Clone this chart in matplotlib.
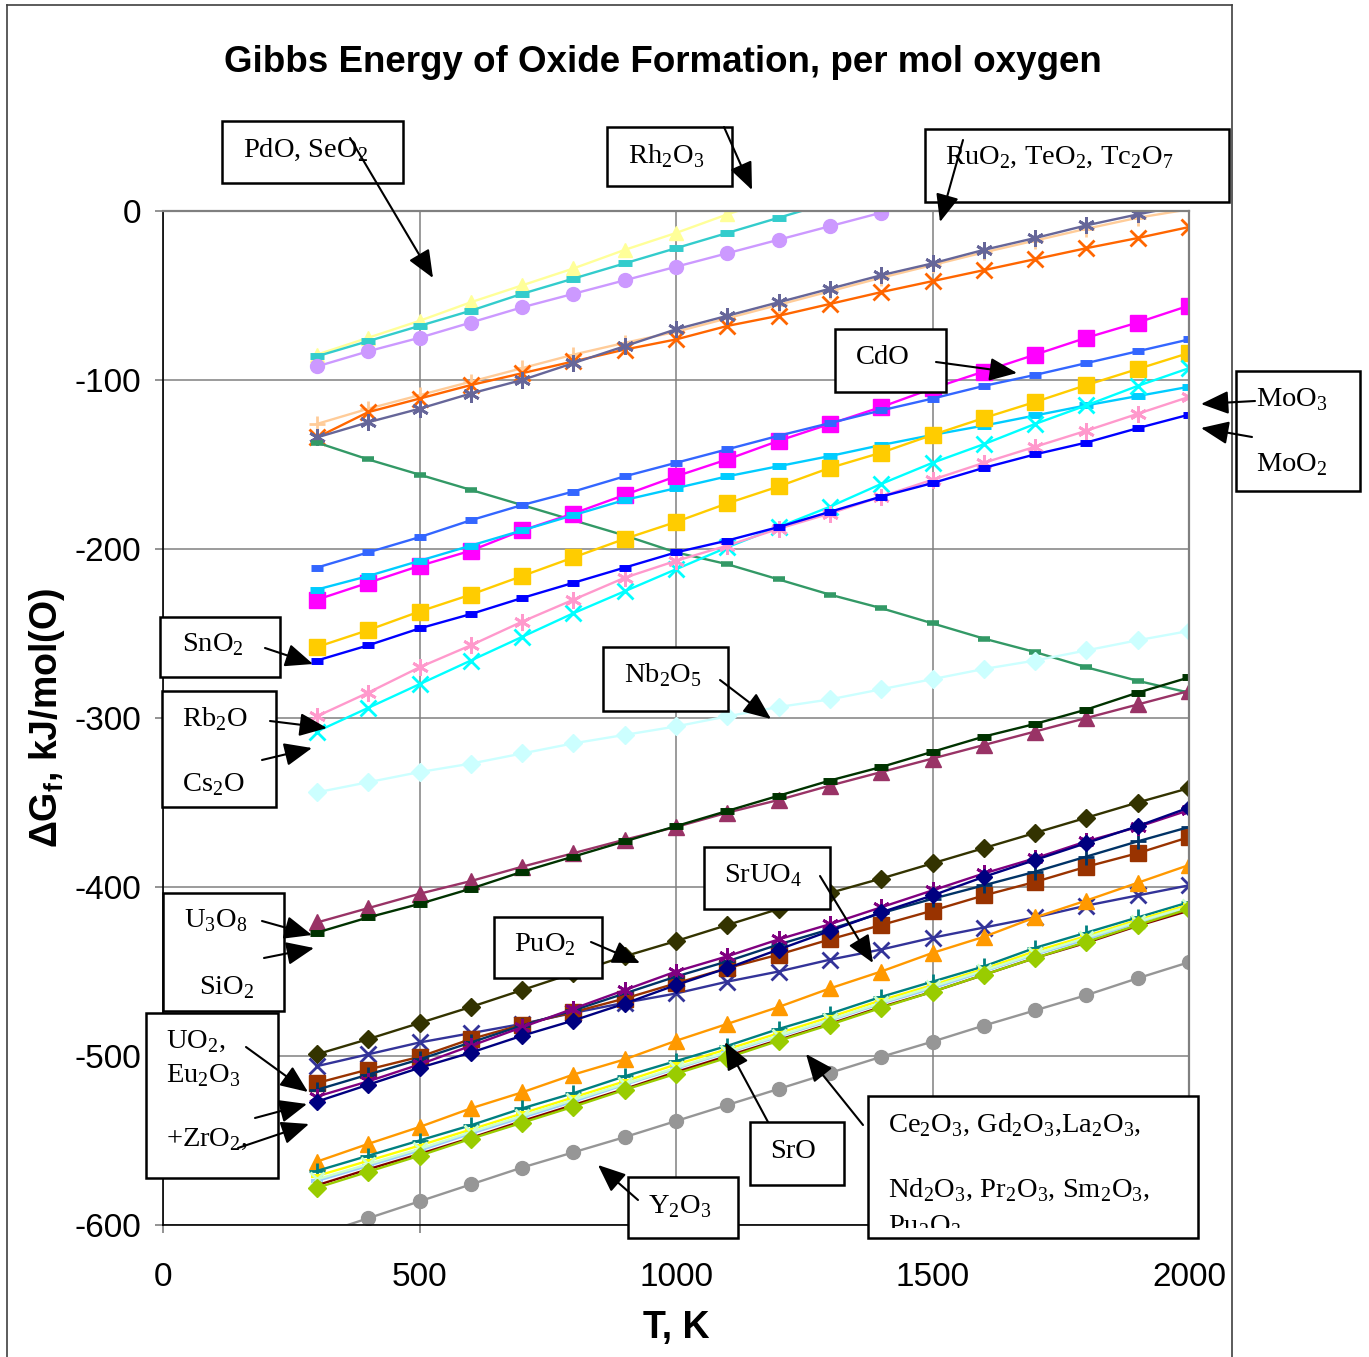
import numpy as np
import matplotlib
matplotlib.use("Agg")
import matplotlib.pyplot as plt
from matplotlib.patches import Rectangle, FancyArrowPatch

plt.rcParams['axes.unicode_minus'] = False
plt.rcParams['mathtext.fontset'] = 'custom'
plt.rcParams['mathtext.rm'] = 'Liberation Serif'
plt.rcParams['mathtext.sf'] = 'Liberation Sans:bold'

nan = np.nan
T = [300, 400, 500, 600, 700, 800, 900, 1000, 1100, 1200, 1300, 1400, 1500, 1600, 1700, 1800, 1900, 2000]

pale_yellow = [-85, -75, -65, -54, -44, -34, -23, -13, -2, 8, nan, nan, nan, nan, nan, nan, nan, nan]
turquoise = [-86, -77, -68, -59, -49, -40, -31, -22, -13, -4, 5, nan, nan, nan, nan, nan, nan, nan]
lavender = [-92, -83, -75, -66, -57, -49, -41, -33, -25, -17, -9, -1, 7, nan, nan, nan, nan, nan]
tan_plus = [-126, -117, -109, -101, -93, -85, -78, -71.5, -63.5, -55.5, -47.5, -39.5, -32, -24.5, -17.5, -10.5, -4, 1]
orange_x = [-134, -119, -111, -103, -96, -89, -82, -76, -68, -62, -55, -48, -41.5, -35, -28.5, -22, -16, -9.5]
slate_star = [-134, -125, -117, -108, -100, -90, -80, -70, -62, -54, -46, -38, -31, -23, -16, -8.5, -2, 4]
green_down = [-137, -147, -156, -165, -174, -183, -192, -202, -209, -218, -227, -235, -244, -253, -261, -270, -278, -285]
cdo = [-230, -220, -210, -201, -189, -179, -168, -157, -147, -136, -126, -116, -105, -95, -85, -75, -66, -56]
royal = [-211, -202, -193, -183, -174, -166, -157, -149, -141, -133, -125.5, -118, -111, -103.5, -97, -90, -83, -76]
moo3 = [-224, -216, -207, -198, -189, -180, -171, -164, -157, -151, -145, -138.5, -132.5, -127, -121, -115, -109.5, -104]
gold = [-258, -248, -237, -227, -216, -205, -194, -184, -173, -163, -152, -143, -132.5, -122.5, -113, -103, -93.5, -84]
cs2o = [-308, -294, -280, -266, -252, -238, -225, -212, -199, -187, -175, -161.5, -149, -138, -126, -115, -103.5, -93]
rb2o = [-299, -285, -270, -257, -243, -230, -217, -207, -198, -188, -179, -169, -159, -149, -139.5, -130, -120, -110]
sno2 = [-266, -257, -247, -238.5, -229, -220, -211, -202, -195, -187, -178, -169, -161, -152, -144, -137, -128.5, -120.5]
nb2o5 = [-344, -338, -332, -327, -321, -315, -310, -305, -299, -293.5, -289, -283, -277, -271, -266, -260, -254, -248.5]
u3o8 = [-421, -412.5, -404, -396.5, -388, -380, -372, -364.5, -356, -348.5, -340, -332, -324, -316, -308, -300, -292, -284]
sio2 = [-427, -418, -410, -401, -391, -382, -373, -364, -355, -346, -337, -329, -320, -311, -303.5, -295, -285, -276]
puo2 = [-499, -490, -480.5, -471, -461, -451, -441, -432, -422.5, -413, -403.5, -395, -386, -377, -368, -359, -350, -341.5]
sruo4 = [-506, -499, -492, -486.5, -481, -474.5, -468.5, -463, -456, -450, -443, -437, -430, -424, -418, -411, -405, -399]
purple_star = [-524, -515, -505, -494, -483, -472, -461, -450, -441, -431, -422, -412, -402, -392, -383, -373, -364.5, -354.5]
navy_dia = [-527, -517, -507, -498, -488, -479, -469, -458, -448, -437, -426, -415, -405, -394, -384, -374, -364, -353]
dteal_plus = [-520, -511, -502, -492, -482, -473, -463, -453, -444, -434, -425, -415.5, -407, -399, -391, -382, -373, -364.5]
brown_sq = [-516, -508, -500.5, -490, -481.5, -474, -466, -457, -448, -440, -431, -422.5, -414, -405, -397, -388, -380, -370.5]
sro = [-562.5, -552, -542, -531, -521.5, -511, -502, -491, -481, -471, -460, -450, -439, -429.5, -418, -408, -397.5, -387]
teal_plus = [-568, -559, -550, -541, -531, -522, -512, -503, -494, -484, -475, -465, -456, -447, -436, -427, -418, -409]
yellow_ln = [-571, -562, -553, -543.5, -534, -524.5, -515, -505, -496, -486.5, -477, -467, -458, -448.5, -438, -429, -419.5, -410.5]
lblue_ln = [-574, -565, -556, -546, -536.5, -527, -517, -507.5, -498, -488.5, -479, -469, -460, -450, -440, -431, -421, -412]
lgreen_x = [-573, -564, -555, -545, -535.5, -526, -516.5, -507, -497.5, -488, -478.5, -468.5, -459, -449.5, -439.5, -430, -420.5, -411.5]
dred_ln = [-576.5, -567, -558, -548.5, -538.5, -529, -519.5, -509.5, -500, -490.5, -481, -471, -462, -452, -442, -433, -423, -414]
ygreen_dia = [-578, -568.5, -559, -549, -539.5, -530, -520, -510.5, -501, -491, -481.5, -471.5, -462, -452, -442, -432.5, -422.5, -413]
y2o3 = [-606, -596, -586, -576, -566, -557, -548, -538.5, -529, -519.5, -510, -500.5, -491.5, -482, -473, -464, -454, -444.5]

AST = (6, 2, 0)
series = [
    (pale_yellow, '#FFFF99', '^', 10, 1),
    (turquoise, '#33CCCC', '_', 10, 5),
    (lavender, '#CC99FF', 'o', 10, 1),
    (tan_plus, '#FFCC99', '+', 12, 2),
    (orange_x, '#FF6600', 'x', 11, 2),
    (slate_star, '#666699', AST, 12, 2),
    (green_down, '#339966', '_', 8, 4),
    (cdo, '#FF00FF', 's', 11, 1),
    (royal, '#3366FF', '_', 9, 5),
    (moo3, '#00CCFF', '_', 10, 5),
    (gold, '#FFCC00', 's', 11, 1),
    (cs2o, '#00FFFF', 'x', 11, 2),
    (rb2o, '#FF99CC', AST, 12, 2),
    (sno2, '#0000FF', '_', 9, 5),
    (nb2o5, '#CCFFFF', 'D', 9, 1),
    (u3o8, '#993366', '^', 11, 1),
    (sio2, '#003300', '_', 10, 5),
    (puo2, '#333300', 'D', 9, 1),
    (sruo4, '#333399', 'x', 11, 2),
    (brown_sq, '#993300', 's', 11, 1),
    (dteal_plus, '#003366', '+', 11, 2),
    (purple_star, '#800080', AST, 12, 2),
    (navy_dia, '#000080', 'D', 8, 1),
    (sro, '#FF9900', '^', 11, 1),
    (teal_plus, '#008080', '+', 11, 2),
    (yellow_ln, '#FFFF00', '_', 8, 3),
    (lblue_ln, '#99CCFF', '_', 8, 3),
    (lgreen_x, '#CCFFCC', 'x', 10, 2),
    (dred_ln, '#800000', 'o', 6, 1),
    (ygreen_dia, '#99CC00', 'D', 9, 1),
    (y2o3, '#969696', 'o', 10, 1),
]

W, H = 1369, 1357
fig = plt.figure(figsize=(W / 100, H / 100), dpi=100)
ax = fig.add_axes([163 / W, 1 - 1225 / H, (1189 - 163) / W, (1225 - 211) / H])

for vals, col, mk, ms, mew in series:
    ax.plot(T, vals, color=col, lw=1.7, marker=mk, ms=ms, mew=mew,
            mec=col, mfc=col)

ax.set_xlim(0, 2000)
ax.set_ylim(-600, 0)
ax.set_xticks([0, 500, 1000, 1500, 2000])
ax.set_yticks([-600, -500, -400, -300, -200, -100, 0])
ax.grid(True, color='#808080', lw=1.1)
ax.set_axisbelow(True)
for s in ['top', 'right']:
    ax.spines[s].set_color('#808080')
    ax.spines[s].set_linewidth(1.6)
for s in ['left', 'bottom']:
    ax.spines[s].set_color('black')
    ax.spines[s].set_linewidth(1.2)
ax.tick_params(direction='out', length=6, width=1.2, labelsize=24, pad=10,
               color='#808080')
ax.tick_params(axis='x', pad=21)
for lab in ax.get_xticklabels() + ax.get_yticklabels():
    lab.set_fontfamily('Liberation Sans')

ax.set_xlabel('T, K', fontsize=27, fontweight='bold', family='Liberation Sans', labelpad=12)
ax.set_ylabel(r'ΔG$_\mathsf{f}$, kJ/mol(O)', fontsize=27, fontweight='bold',
              family='Liberation Sans', labelpad=5)
fig.text(663 / W, 1 - 62 / H, 'Gibbs Energy of Oxide Formation, per mol oxygen',
         ha='center', va='center', fontsize=26.5, fontweight='bold', family='Liberation Sans')

# chart border
for xs, ys in [([7, 7], [H, 5]), ([7, 1232], [5, 5]), ([1232, 1232], [5, H])]:
    fig.add_artist(plt.Line2D([x / W for x in xs], [1 - y / H for y in ys],
                              color='#404040', lw=1.2))


def box(x0, y0, x1, y1):
    r = Rectangle((x0 / W, 1 - y1 / H), (x1 - x0) / W, (y1 - y0) / H,
                  transform=fig.transFigure, fc='white', ec='black', lw=1.8, zorder=5)
    fig.add_artist(r)
    return r


def label(x, y, s, ha='left', clip=None):
    t = fig.text(x / W, 1 - y / H, s, ha=ha, va='center', fontsize=20.5,
                 family='Liberation Serif', zorder=6)
    if clip is not None:
        t.set_clip_path(clip)
    return t


def arrow(x1, y1, x2, y2):
    a = FancyArrowPatch((x1 / W, 1 - y1 / H), (x2 / W, 1 - y2 / H),
                        transform=fig.transFigure, zorder=8,
                        arrowstyle='-|>,head_length=1.0,head_width=0.42',
                        mutation_scale=17, color='black', lw=1.5,
                        shrinkA=0, shrinkB=0)
    fig.add_artist(a)


box(222, 121, 403, 183); label(243, 150, r'PdO, SeO$_2$')
box(607, 127, 732, 186); label(628, 156, r'Rh$_2$O$_3$')
box(925, 129, 1229, 202); label(945, 158, r'RuO$_2$, TeO$_2$, Tc$_2$O$_7$')
box(835, 329, 946, 392); label(856, 357, 'CdO')
box(1236, 371, 1360, 491); label(1256, 400, r'MoO$_3$'); label(1256, 465, r'MoO$_2$')
box(160, 617, 280, 677); label(182, 645, r'SnO$_2$')
box(603, 647, 728, 711); label(624, 675, r'Nb$_2$O$_5$')
box(162, 691, 276, 807); label(182, 719, r'Rb$_2$O'); label(182, 785, r'Cs$_2$O')
box(704, 847, 830, 909); label(724, 876, r'SrUO$_4$')
box(163, 893, 284, 1011); label(184, 921, r'U$_3$O$_8$'); label(199, 988, r'SiO$_2$')
box(494, 917, 602, 978); label(514, 945, r'PuO$_2$')
box(146, 1013, 278, 1178); label(166, 1042, r'UO$_2$,'); label(166, 1076, r'Eu$_2$O$_3$')
label(166, 1140, r'+ZrO$_2$,')
box(750, 1122, 844, 1185); label(770, 1151, 'SrO')
box(628, 1177, 738, 1238); label(648, 1207, r'Y$_2$O$_3$')
cebox = box(868, 1096, 1198, 1238)
label(888, 1125, r'Ce$_2$O$_3$, Gd$_2$O$_3$,La$_2$O$_3$,')
label(888, 1190, r'Nd$_2$O$_3$, Pr$_2$O$_3$, Sm$_2$O$_3$,')
label(888, 1227, r'Pu$_2$O$_3$', clip=Rectangle((868 / W, 1 - 1228 / H), 330 / W, 132 / H,
                                               transform=fig.transFigure))

arrow(350, 138, 433, 278)
arrow(724, 127, 752, 190)
arrow(963, 140, 940, 222)
arrow(936, 362, 1017, 373)
arrow(1255, 401, 1201, 404)
arrow(1252, 437, 1201, 428)
arrow(265, 648, 313, 664)
arrow(720, 680, 771, 719)
arrow(270, 721, 327, 728)
arrow(262, 760, 312, 748)
arrow(820, 876, 873, 963)
arrow(262, 921, 312, 935)
arrow(264, 958, 314, 948)
arrow(591, 942, 640, 963)
arrow(246, 1047, 308, 1092)
arrow(255, 1118, 307, 1104)
arrow(238, 1148, 309, 1124)
arrow(768, 1122, 725, 1042)
arrow(863, 1125, 806, 1054)
arrow(638, 1200, 598, 1165)

fig.savefig('out.png', dpi=100)
